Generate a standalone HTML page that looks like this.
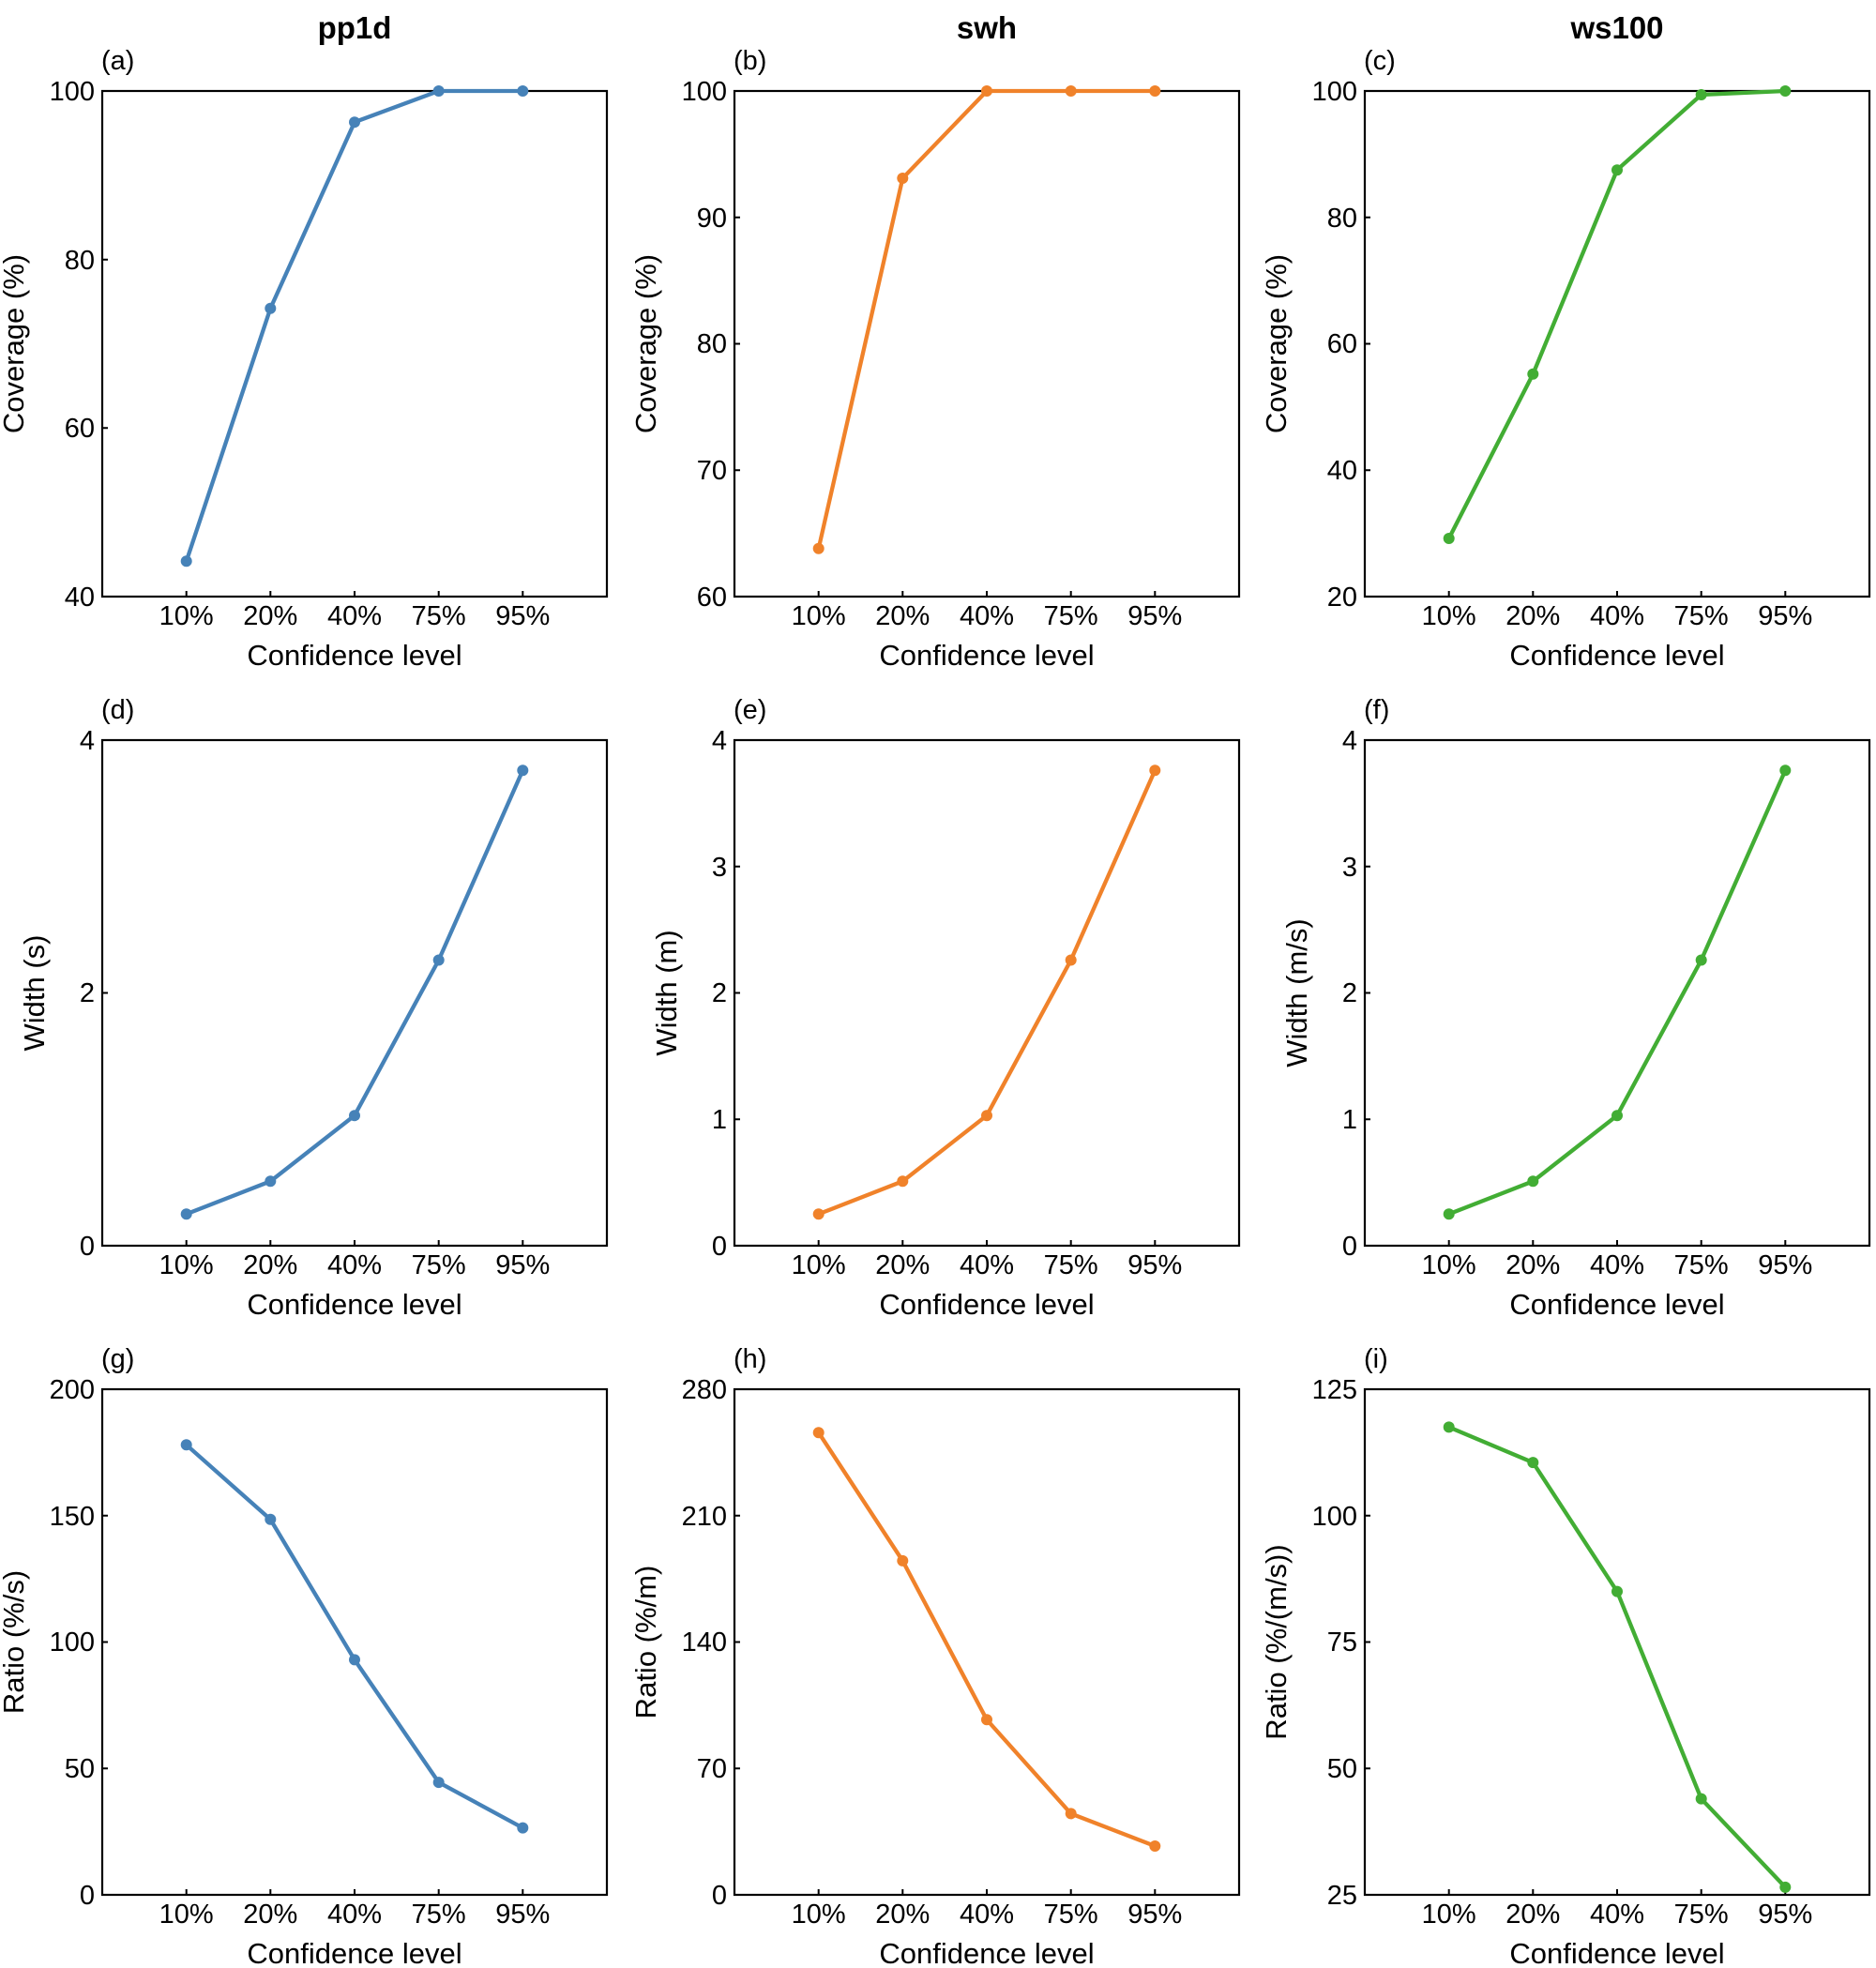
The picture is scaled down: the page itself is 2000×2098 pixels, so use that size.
<!DOCTYPE html>
<html><head><meta charset="utf-8"><style>
html,body{margin:0;padding:0;background:#fff}
svg{display:block}
text{font-family:"Liberation Sans",Arial,sans-serif;fill:#000}
.t{font-size:29px}
.yt{font-size:29px;text-anchor:end}
.xt{font-size:29px;text-anchor:middle}
.xl{font-size:31px;text-anchor:middle}
.ti{font-size:33px;font-weight:bold;text-anchor:middle}
.ax{fill:none;stroke:#000;stroke-width:2.2}
.tk{stroke:#000;stroke-width:2}
.b{fill:none;stroke:#4682b8;stroke-width:4.3}
.o{fill:none;stroke:#f0822a;stroke-width:4.3}
.g{fill:none;stroke:#42ad34;stroke-width:4.3}
.bc{fill:#4682b8}.oc{fill:#f0822a}.gc{fill:#42ad34}
</style></head><body>
<svg width="2000" height="2098" viewBox="0 0 2000 2098" xmlns="http://www.w3.org/2000/svg">
<defs>
<g id="xax">
<rect class="ax" x="0" y="0" width="538" height="539"/>
<path class="tk" d="M89.7 539v-6M179.3 539v-6M269 539v-6M358.7 539v-6M448.3 539v-6"/>
<text class="xt" x="89.7" y="569">10%</text>
<text class="xt" x="179.3" y="569">20%</text>
<text class="xt" x="269" y="569">40%</text>
<text class="xt" x="358.7" y="569">75%</text>
<text class="xt" x="448.3" y="569">95%</text>
<text class="xl" x="269" y="612">Confidence level</text>
</g>
<path id="yt5" class="tk" d="M0 539h6M0 404.25h6M0 269.5h6M0 134.75h6M0 0h6"/>
</defs>

<!-- Row 1 -->
<g transform="translate(109,97)">
<text class="ti" x="269" y="-56">pp1d</text>
<text class="t" x="-1" y="-23">(a)</text>
<use href="#xax"/>
<path class="tk" d="M0 539h6M0 359.3h6M0 179.7h6M0 0h6"/>
<text class="yt" x="-8" y="549">40</text><text class="yt" x="-8" y="369">60</text><text class="yt" x="-8" y="190">80</text><text class="yt" x="-8" y="10">100</text>
<text class="xl" transform="translate(-84,269.5) rotate(-90)">Coverage (%)</text>
<polyline class="b" points="89.7,501.3 179.3,231.8 269,33.2 358.7,0 448.3,0"/>
<g class="bc"><circle cx="89.7" cy="501.3" r="6"/><circle cx="179.3" cy="231.8" r="6"/><circle cx="269" cy="33.2" r="6"/><circle cx="358.7" cy="0" r="6"/><circle cx="448.3" cy="0" r="6"/></g>
</g>

<g transform="translate(783,97)">
<text class="ti" x="269" y="-56">swh</text>
<text class="t" x="-1" y="-23">(b)</text>
<use href="#xax"/><use href="#yt5"/>
<text class="yt" x="-8" y="549">60</text><text class="yt" x="-8" y="414">70</text><text class="yt" x="-8" y="279">80</text><text class="yt" x="-8" y="145">90</text><text class="yt" x="-8" y="10">100</text>
<text class="xl" transform="translate(-84,269.5) rotate(-90)">Coverage (%)</text>
<polyline class="o" points="89.7,487.8 179.3,93 269,0 358.7,0 448.3,0"/>
<g class="oc"><circle cx="89.7" cy="487.8" r="6"/><circle cx="179.3" cy="93" r="6"/><circle cx="269" cy="0" r="6"/><circle cx="358.7" cy="0" r="6"/><circle cx="448.3" cy="0" r="6"/></g>
</g>

<g transform="translate(1455,97)">
<text class="ti" x="269" y="-56">ws100</text>
<text class="t" x="-1" y="-23">(c)</text>
<use href="#xax"/><use href="#yt5"/>
<text class="yt" x="-8" y="549">20</text><text class="yt" x="-8" y="414">40</text><text class="yt" x="-8" y="279">60</text><text class="yt" x="-8" y="145">80</text><text class="yt" x="-8" y="10">100</text>
<text class="xl" transform="translate(-84,269.5) rotate(-90)">Coverage (%)</text>
<polyline class="g" points="89.7,477 179.3,301.8 269,84.2 358.7,4 448.3,0"/>
<g class="gc"><circle cx="89.7" cy="477" r="6"/><circle cx="179.3" cy="301.8" r="6"/><circle cx="269" cy="84.2" r="6"/><circle cx="358.7" cy="4" r="6"/><circle cx="448.3" cy="0" r="6"/></g>
</g>

<!-- Row 2 -->
<g transform="translate(109,789)">
<text class="t" x="-1" y="-23">(d)</text>
<use href="#xax"/>
<path class="tk" d="M0 539h6M0 269.5h6M0 0h6"/>
<text class="yt" x="-8" y="549">0</text><text class="yt" x="-8" y="279">2</text><text class="yt" x="-8" y="10">4</text>
<text class="xl" transform="translate(-62,269.5) rotate(-90)">Width (s)</text>
<polyline class="b" points="89.7,505.3 179.3,470.3 269,400.2 358.7,234.5 448.3,32.3"/>
<g class="bc"><circle cx="89.7" cy="505.3" r="6"/><circle cx="179.3" cy="470.3" r="6"/><circle cx="269" cy="400.2" r="6"/><circle cx="358.7" cy="234.5" r="6"/><circle cx="448.3" cy="32.3" r="6"/></g>
</g>

<g transform="translate(783,789)">
<text class="t" x="-1" y="-23">(e)</text>
<use href="#xax"/><use href="#yt5"/>
<text class="yt" x="-8" y="549">0</text><text class="yt" x="-8" y="414">1</text><text class="yt" x="-8" y="279">2</text><text class="yt" x="-8" y="145">3</text><text class="yt" x="-8" y="10">4</text>
<text class="xl" transform="translate(-62,269.5) rotate(-90)">Width (m)</text>
<polyline class="o" points="89.7,505.3 179.3,470.3 269,400.2 358.7,234.5 448.3,32.3"/>
<g class="oc"><circle cx="89.7" cy="505.3" r="6"/><circle cx="179.3" cy="470.3" r="6"/><circle cx="269" cy="400.2" r="6"/><circle cx="358.7" cy="234.5" r="6"/><circle cx="448.3" cy="32.3" r="6"/></g>
</g>

<g transform="translate(1455,789)">
<text class="t" x="-1" y="-23">(f)</text>
<use href="#xax"/><use href="#yt5"/>
<text class="yt" x="-8" y="549">0</text><text class="yt" x="-8" y="414">1</text><text class="yt" x="-8" y="279">2</text><text class="yt" x="-8" y="145">3</text><text class="yt" x="-8" y="10">4</text>
<text class="xl" transform="translate(-62,269.5) rotate(-90)">Width (m/s)</text>
<polyline class="g" points="89.7,505.3 179.3,470.3 269,400.2 358.7,234.5 448.3,32.3"/>
<g class="gc"><circle cx="89.7" cy="505.3" r="6"/><circle cx="179.3" cy="470.3" r="6"/><circle cx="269" cy="400.2" r="6"/><circle cx="358.7" cy="234.5" r="6"/><circle cx="448.3" cy="32.3" r="6"/></g>
</g>

<!-- Row 3 -->
<g transform="translate(109,1481)">
<text class="t" x="-1" y="-23">(g)</text>
<use href="#xax"/><use href="#yt5"/>
<text class="yt" x="-8" y="549">0</text><text class="yt" x="-8" y="414">50</text><text class="yt" x="-8" y="279">100</text><text class="yt" x="-8" y="145">150</text><text class="yt" x="-8" y="10">200</text>
<text class="xl" transform="translate(-84,269.5) rotate(-90)">Ratio (%/s)</text>
<polyline class="b" points="89.7,59.3 179.3,138.8 269,288.4 358.7,419.1 448.3,467.6"/>
<g class="bc"><circle cx="89.7" cy="59.3" r="6"/><circle cx="179.3" cy="138.8" r="6"/><circle cx="269" cy="288.4" r="6"/><circle cx="358.7" cy="419.1" r="6"/><circle cx="448.3" cy="467.6" r="6"/></g>
</g>

<g transform="translate(783,1481)">
<text class="t" x="-1" y="-23">(h)</text>
<use href="#xax"/><use href="#yt5"/>
<text class="yt" x="-8" y="549">0</text><text class="yt" x="-8" y="414">70</text><text class="yt" x="-8" y="279">140</text><text class="yt" x="-8" y="145">210</text><text class="yt" x="-8" y="10">280</text>
<text class="xl" transform="translate(-84,269.5) rotate(-90)">Ratio (%/m)</text>
<polyline class="o" points="89.7,46.2 179.3,182.9 269,352.3 358.7,452.4 448.3,487"/>
<g class="oc"><circle cx="89.7" cy="46.2" r="6"/><circle cx="179.3" cy="182.9" r="6"/><circle cx="269" cy="352.3" r="6"/><circle cx="358.7" cy="452.4" r="6"/><circle cx="448.3" cy="487" r="6"/></g>
</g>

<g transform="translate(1455,1481)">
<text class="t" x="-1" y="-23">(i)</text>
<use href="#xax"/><use href="#yt5"/>
<text class="yt" x="-8" y="549">25</text><text class="yt" x="-8" y="414">50</text><text class="yt" x="-8" y="279">75</text><text class="yt" x="-8" y="145">100</text><text class="yt" x="-8" y="10">125</text>
<text class="xl" transform="translate(-84,269.5) rotate(-90)">Ratio (%/(m/s))</text>
<polyline class="g" points="89.7,40.4 179.3,78.1 269,215.6 358.7,436.6 448.3,530.9"/>
<g class="gc"><circle cx="89.7" cy="40.4" r="6"/><circle cx="179.3" cy="78.1" r="6"/><circle cx="269" cy="215.6" r="6"/><circle cx="358.7" cy="436.6" r="6"/><circle cx="448.3" cy="530.9" r="6"/></g>
</g>
</svg>
</body></html>
